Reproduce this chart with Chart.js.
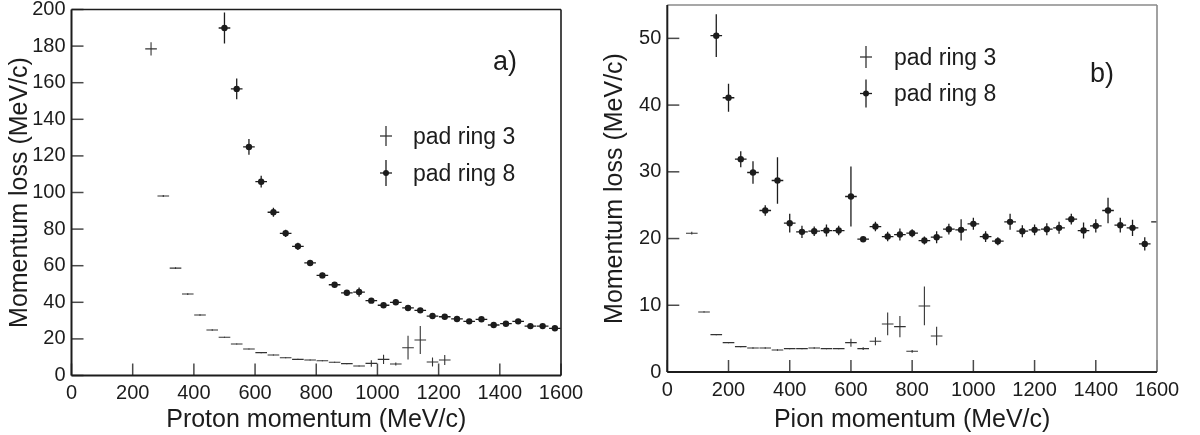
<!DOCTYPE html>
<html>
<head>
<meta charset="utf-8">
<script src="https://cdn.jsdelivr.net/npm/chart.js@4.4.1/dist/chart.umd.min.js"></script>
<style>
  body { margin: 0; background: #fff; }
  #wrap { position: relative; width: 1200px; height: 435px; }
  canvas { position: absolute; top: 0; }
</style>
</head>
<body>
<div id="wrap">
  <canvas id="protonChart" width="600" height="435" style="left:0"></canvas>
  <canvas id="pionChart" width="600" height="435" style="left:600px"></canvas>
</div>
<script>
// a) protons
const protonRing3X = [260, 300, 340, 380, 420, 460, 500, 540, 580, 620, 660, 700, 740, 780, 820, 860, 900, 940, 980, 1020, 1060, 1100, 1140, 1180, 1220];
const protonRing3Y = [178.5, 98.1, 58.7, 44.5, 33.1, 24.9, 20.9, 17.2, 14.5, 12.5, 11.2, 9.7, 8.8, 8.5, 8.1, 7.2, 6.5, 5.2, 6.6, 8.8, 6.3, 15.2, 19.4, 7.4, 8.5];
const protonRing3Err = [3.6, 0.6, 0.5, 0.5, 0.4, 0.4, 0.3, 0.3, 0.3, 0.3, 0.3, 0.3, 0.3, 0.3, 0.3, 0.3, 0.3, 0.3, 1.8, 2.5, 0.8, 6.5, 7.6, 2.5, 2.7];

const protonRing8X = [500, 540, 580, 620, 660, 700, 740, 780, 820, 860, 900, 940, 980, 1020, 1060, 1100, 1140, 1180, 1220, 1260, 1300, 1340, 1380, 1420, 1460, 1500, 1540, 1580];
const protonRing8Y = [189.9, 156.6, 124.9, 105.9, 89.2, 77.7, 70.6, 61.5, 54.7, 49.6, 45.2, 45.6, 40.9, 38.4, 40.0, 36.9, 35.6, 32.5, 32.1, 30.9, 29.6, 30.7, 27.6, 28.3, 29.6, 27.0, 27.0, 25.8];
const protonRing8Err = [8.5, 5.7, 4.3, 3.2, 2.5, 2.0, 2.0, 1.5, 1.5, 1.5, 1.5, 2.5, 1.3, 1.3, 1.5, 1.3, 1.3, 1.2, 1.2, 1.2, 1.2, 1.2, 1.2, 1.2, 1.2, 1.2, 1.2, 1.2];

// b) pions
const pionRing3X = [80, 120, 160, 200, 240, 280, 320, 360, 400, 440, 480, 520, 560, 600, 640, 680, 720, 760, 800, 840, 880];
const pionRing3Y = [20.8, 9.0, 5.6, 4.4, 3.8, 3.6, 3.6, 3.3, 3.5, 3.5, 3.6, 3.5, 3.5, 4.4, 3.5, 4.6, 7.2, 6.8, 3.1, 9.9, 5.4];
const pionRing3Err = [0.2, 0.1, 0.1, 0.1, 0.1, 0.1, 0.1, 0.1, 0.1, 0.1, 0.1, 0.1, 0.1, 0.6, 0.2, 0.6, 1.7, 1.6, 0.2, 2.9, 1.4];

const pionRing8X = [160, 200, 240, 280, 320, 360, 400, 440, 480, 520, 560, 600, 640, 680, 720, 760, 800, 840, 880, 920, 960, 1000, 1040, 1080, 1120, 1160, 1200, 1240, 1280, 1320, 1360, 1400, 1440, 1480, 1520, 1560, 1600];
const pionRing8Y = [50.4, 41.1, 31.9, 29.9, 24.2, 28.7, 22.3, 21.0, 21.1, 21.2, 21.2, 26.3, 19.9, 21.8, 20.3, 20.6, 20.8, 19.7, 20.2, 21.4, 21.3, 22.2, 20.3, 19.6, 22.5, 21.1, 21.3, 21.4, 21.6, 22.9, 21.2, 21.9, 24.2, 22.0, 21.6, 19.2, 22.5];
const pionRing8Err = [3.2, 2.1, 1.2, 1.7, 0.8, 3.5, 1.4, 0.9, 0.7, 0.9, 0.7, 4.5, 0.3, 0.7, 0.7, 0.9, 0.6, 0.6, 0.9, 0.8, 1.6, 0.9, 0.8, 0.6, 1.2, 0.9, 0.8, 0.9, 0.9, 0.8, 1.2, 1.0, 1.9, 1.1, 1.2, 1.0, 0];

const ringLabels = ['pad ring 3', 'pad ring 8'];
const HALF_BIN = 19; // MeV/c, horizontal arm of each cross

const INK = '#1c1c1c';
const FONT = '"Liberation Sans", Arial, Helvetica, sans-serif';

const toPoints = (xs, ys) => xs.map((x, i) => ({ x: x, y: ys[i] }));

function strokeLine(ctx, x0, y0, x1, y1) {
  ctx.beginPath();
  ctx.moveTo(x0, y0);
  ctx.lineTo(x1, y1);
  ctx.stroke();
}

// crosses: bin width horizontally, error vertically
const errorBars = {
  id: 'errorBars',
  beforeDatasetsDraw(chart) {
    const ctx = chart.ctx;
    const area = chart.chartArea;
    const xs = chart.scales.x, ys = chart.scales.y;
    ctx.save();
    ctx.beginPath();
    ctx.rect(area.left, area.top, area.right - area.left, area.bottom - area.top);
    ctx.clip();
    chart.data.datasets.forEach(ds => {
      ctx.strokeStyle = ds.barColor;
      ctx.lineWidth = ds.barWidth;
      ds.data.forEach((p, i) => {
        const px = xs.getPixelForValue(p.x);
        const py = ys.getPixelForValue(p.y);
        strokeLine(ctx, xs.getPixelForValue(p.x - HALF_BIN), py, xs.getPixelForValue(p.x + HALF_BIN), py);
        if (ds.yErr[i] > 0) {
          strokeLine(ctx, px, ys.getPixelForValue(p.y - ds.yErr[i]), px, ys.getPixelForValue(p.y + ds.yErr[i]));
        }
      });
    });
    ctx.restore();
  }
};

// frame with inward ticks, legend and panel letter
function framePlugin(f) {
  return {
    id: 'panelFrame',
    afterDatasetsDraw(chart) {
      const ctx = chart.ctx;
      const area = chart.chartArea;
      const xs = chart.scales.x, ys = chart.scales.y;
      ctx.save();
      ctx.strokeStyle = '#4a4a4a';
      ctx.lineWidth = 1.5;
      xs.ticks.forEach(t => {
        const px = xs.getPixelForValue(t.value);
        strokeLine(ctx, px, area.bottom, px, area.bottom - 12);
      });
      ys.ticks.forEach(t => {
        const py = ys.getPixelForValue(t.value);
        strokeLine(ctx, area.left, py, area.left + 12, py);
      });

      ctx.lineWidth = 1.6;
      ctx.strokeStyle = f.sideColor;
      strokeLine(ctx, area.left, area.top, area.right, area.top);
      strokeLine(ctx, area.right, area.top, area.right, area.bottom);
      ctx.strokeStyle = INK;
      ctx.lineWidth = 2;
      strokeLine(ctx, area.left, area.top, area.left, area.bottom);
      strokeLine(ctx, area.left, area.bottom, area.right, area.bottom);

      // legend
      ctx.font = '23px ' + FONT;
      ctx.fillStyle = INK;
      ctx.textBaseline = 'alphabetic';
      chart.data.datasets.forEach((ds, i) => {
        const mx = f.legendX, my = f.legendY[i];
        ctx.strokeStyle = ds.barColor;
        ctx.lineWidth = 1.3;
        strokeLine(ctx, mx - 6, my, mx + 6, my);
        strokeLine(ctx, mx, my - f.legendArm[i], mx, my + f.legendArm[i]);
        if (ds.legendDot) {
          ctx.beginPath();
          ctx.arc(mx, my, 3, 0, Math.PI * 2);
          ctx.fill();
        }
        ctx.fillText(ds.label, f.textX, my + 7.5);
      });

      ctx.font = '27px ' + FONT;
      ctx.fillText(f.letter, f.letterX, f.letterY);
      ctx.restore();
    }
  };
}

function makePanel(id, p) {
  return new Chart(document.getElementById(id), {
    type: 'scatter',
    data: {
      datasets: [
        {
          label: ringLabels[0],
          data: toPoints(p.x3, p.y3),
          yErr: p.e3,
          barColor: '#333',
          barWidth: 1.1,
          legendDot: false,
          pointRadius: 0,
          clip: 0
        },
        {
          label: ringLabels[1],
          data: toPoints(p.x8, p.y8),
          yErr: p.e8,
          barColor: INK,
          barWidth: 1.3,
          legendDot: true,
          pointRadius: ctx => (ctx.raw && ctx.raw.x >= 1600 ? 0 : 3.2),
          pointBackgroundColor: INK,
          pointBorderWidth: 0,
          clip: 0
        }
      ]
    },
    options: {
      responsive: false,
      animation: false,
      events: [],
      layout: { padding: p.padding },
      plugins: {
        legend: { display: false },
        tooltip: { enabled: false }
      },
      scales: {
        x: {
          type: 'linear',
          min: 0,
          max: 1600,
          afterFit: s => { s.height = p.xHeight; s.paddingLeft = 0; s.paddingRight = 0; },
          grid: { display: false, drawTicks: false },
          border: { display: false },
          ticks: {
            stepSize: 200, autoSkip: false, maxRotation: 0, padding: 8, color: INK,
            font: { family: FONT, size: 20, lineHeight: 1 },
            callback: v => String(v)
          },
          title: { display: true, text: p.xTitle, color: INK, padding: 0, font: { family: FONT, size: 25, lineHeight: 1.2 } }
        },
        y: {
          type: 'linear',
          min: 0,
          max: p.yMax,
          afterFit: s => { s.width = p.yWidth; s.paddingTop = 0; s.paddingBottom = 0; },
          grid: { display: false, drawTicks: false },
          border: { display: false },
          ticks: {
            stepSize: p.yStep, includeBounds: false, autoSkip: false, padding: 6, color: INK,
            font: { family: FONT, size: 20, lineHeight: 1 },
            callback: v => String(v)
          },
          title: { display: true, text: 'Momentum loss (MeV/c)', color: INK, padding: { top: p.yTitlePad, bottom: 0 }, font: { family: FONT, size: 25, lineHeight: 1.2 } }
        }
      }
    },
    plugins: [errorBars, framePlugin(p.frame)]
  });
}

makePanel('protonChart', {
  x3: protonRing3X, y3: protonRing3Y, e3: protonRing3Err,
  x8: protonRing8X, y8: protonRing8Y, e8: protonRing8Err,
  padding: { left: 0, top: 9.5, right: 39, bottom: 0 },
  xHeight: 59.5, yWidth: 71.5, yMax: 200, yStep: 20, yTitlePad: 5,
  xTitle: 'Proton momentum (MeV/c)',
  frame: { sideColor: INK, legendX: 386, legendY: [136, 173], legendArm: [10, 13], textX: 413, letter: 'a)', letterX: 493, letterY: 70 }
});

makePanel('pionChart', {
  x3: pionRing3X, y3: pionRing3Y, e3: pionRing3Err,
  x8: pionRing8X, y8: pionRing8Y, e8: pionRing8Err,
  padding: { left: 0, top: 5, right: 43, bottom: 0 },
  xHeight: 63, yWidth: 67.3, yMax: 55, yStep: 10, yTitlePad: 0,
  xTitle: 'Pion momentum (MeV/c)',
  frame: { sideColor: '#8a8a8a', legendX: 266, legendY: [57, 93.5], legendArm: [11, 14], textX: 294, letter: 'b)', letterX: 490, letterY: 82 }
});
</script>
</body>
</html>
